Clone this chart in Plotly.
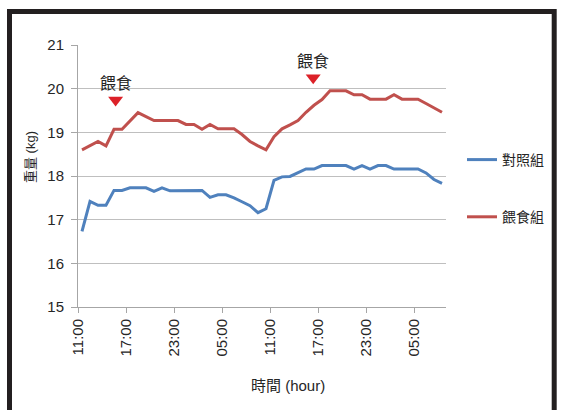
import plotly.graph_objects as go

# Hourly body weight (kg), starting 11:00, 46 readings
hours = list(range(46))
control = [16.73, 17.42, 17.33, 17.33, 17.67, 17.67, 17.73, 17.73, 17.73, 17.65,
           17.73, 17.66, 17.66, 17.66, 17.66, 17.67, 17.51, 17.57, 17.57, 17.50,
           17.41, 17.32, 17.16, 17.25, 17.90, 17.98, 17.99, 18.08, 18.16, 18.16,
           18.24, 18.24, 18.24, 18.24, 18.16, 18.24, 18.16, 18.24, 18.24, 18.16,
           18.16, 18.16, 18.16, 18.07, 17.92, 17.83]
fed = [18.60, 18.69, 18.79, 18.69, 19.07, 19.07, 19.26, 19.45, 19.36, 19.27,
       19.27, 19.27, 19.27, 19.18, 19.18, 19.07, 19.18, 19.08, 19.08, 19.08,
       18.95, 18.79, 18.69, 18.60, 18.90, 19.08, 19.17, 19.27, 19.46, 19.62,
       19.75, 19.95, 19.95, 19.95, 19.86, 19.86, 19.76, 19.76, 19.76, 19.86,
       19.76, 19.76, 19.76, 19.66, 19.56, 19.46]
series_names = ["對照組", "餵食組"]
tick_labels = ["11:00", "17:00", "23:00", "05:00", "11:00", "17:00", "23:00", "05:00"]
feeding_times = [4.2, 28.9]          # hour offsets of the two feedings
feeding_label = "餵食"

BLUE = "#4F81BD"
RED = "#C0504D"
MARK = "#DC2128"
TXT = "#262626"
GRID = "#BFBFBF"
AX = "#A6A6A6"
CJK = "Liberation Sans, Noto Sans CJK TC"

W, H = 562, 410
L, R, T, B = 78, 446, 45, 307   # plot area in pixels


def px(x):
    return (x - L) / (R - L)


def py(y):
    return (B - y) / (B - T)


fig = go.Figure()
fig.add_trace(go.Scatter(x=hours, y=control, mode="lines", name=series_names[0],
                         line=dict(color=BLUE, width=3), legendgroup="a"))
fig.add_trace(go.Scatter(x=hours, y=fed, mode="lines", name=series_names[1],
                         line=dict(color=RED, width=3), legendgroup="b"))

# feeding markers: red triangles with label above
mark_y = [19.74, 20.25]
fig.add_trace(go.Scatter(x=feeding_times, y=mark_y, mode="markers",
                         marker=dict(symbol="triangle-down", size=13, color=MARK),
                         showlegend=False, hoverinfo="skip", cliponaxis=False))
for fx, fy in zip(feeding_times, mark_y):
    fig.add_annotation(x=fx, y=fy + 0.38, xref="x", yref="y", text=feeding_label,
                       showarrow=False, xanchor="center", yanchor="middle",
                       font=dict(size=16, color=TXT, family=CJK))

tickvals = [-0.5 + 6 * k for k in range(len(tick_labels))]
fig.update_xaxes(range=[-0.5, 45.5], tickvals=tickvals, ticktext=tick_labels,
                 tickangle=-90, ticks="outside", ticklen=5, tickcolor=AX,
                 showline=True, linecolor=AX, linewidth=1, showgrid=False,
                 zeroline=False, tickfont=dict(size=15, color=TXT, family=CJK))
fig.update_yaxes(range=[15, 21], dtick=1, ticks="outside", ticklen=6, tickcolor=AX,
                 showline=True, linecolor=AX, linewidth=1, showgrid=True,
                 gridcolor=GRID, gridwidth=1, zeroline=False,
                 ticklabelstandoff=4,
                 tickfont=dict(size=15, color=TXT, family=CJK))

# axis titles
fig.add_annotation(x=px(288), y=py(385), xref="paper", yref="paper",
                   text="時間 (hour)", showarrow=False,
                   xanchor="center", yanchor="middle",
                   font=dict(size=15, color=TXT, family=CJK))
fig.add_annotation(x=px(30), y=py(157), xref="paper", yref="paper",
                   text="重量 (kg)", textangle=-90, showarrow=False,
                   xanchor="center", yanchor="middle",
                   font=dict(size=13, color=TXT, family=CJK))

# outer black frame
fig.add_shape(type="rect", xref="paper", yref="paper",
              x0=px(9.5), x1=px(554.2), y0=py(440), y1=py(11.5),
              line=dict(color="#231F20", width=5), fillcolor="rgba(0,0,0,0)")

fig.update_layout(
    width=W, height=H,
    margin=dict(l=L, r=W - R, t=T, b=H - B),
    paper_bgcolor="white", plot_bgcolor="white",
    showlegend=True,
    legend=dict(x=px(462), y=py(144), xanchor="left", yanchor="top",
                tracegroupgap=36, bgcolor="rgba(0,0,0,0)",
                font=dict(size=14, color=TXT, family=CJK)),
    font=dict(family=CJK, color=TXT),
)

fig.write_html("out.html")
